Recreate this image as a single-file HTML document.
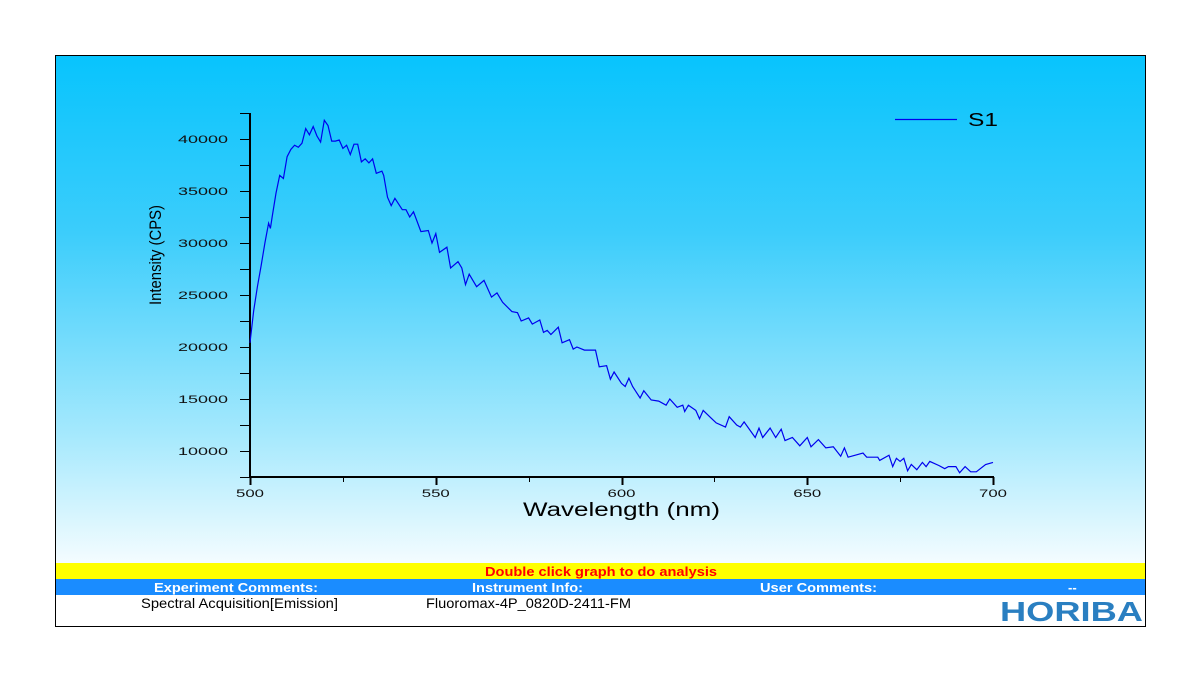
<!DOCTYPE html>
<html><head><meta charset="utf-8">
<style>
html,body{margin:0;padding:0;background:#fff;width:1200px;height:681px;overflow:hidden;font-family:"Liberation Sans",sans-serif;}
#frame{position:absolute;left:55px;top:55px;width:1089px;height:570px;border:1px solid #000;background:#fff;overflow:hidden;}
#grad{position:absolute;left:0;top:0;width:1089px;height:507px;background:linear-gradient(#08c4fd 0%,#3ccdfb 35%,#a6e9fd 75%,#f4fcff 100%);}
#ybar{position:absolute;left:0;top:507px;width:1089px;height:16px;background:#ffff00;}
#bbar{position:absolute;left:0;top:523px;width:1089px;height:16px;background:#1a8cff;}
#over{position:absolute;left:0;top:0;}
</style></head><body>
<div id="frame">
<div id="grad"></div>
<div id="ybar"></div>
<div id="bbar"></div>
</div>
<svg id="over" width="1200" height="681" font-family="Liberation Sans, sans-serif">
<text x="485" y="576" font-size="13" font-weight="bold" fill="#ff0000" textLength="232" lengthAdjust="spacingAndGlyphs">Double click graph to do analysis</text>
<text x="154" y="592" font-size="13" font-weight="bold" fill="#fff" textLength="164" lengthAdjust="spacingAndGlyphs">Experiment Comments:</text>
<text x="472" y="592" font-size="13" font-weight="bold" fill="#fff" textLength="111" lengthAdjust="spacingAndGlyphs">Instrument Info:</text>
<text x="760" y="592" font-size="13" font-weight="bold" fill="#fff" textLength="117" lengthAdjust="spacingAndGlyphs">User Comments:</text>
<text x="1068" y="592" font-size="13" font-weight="bold" fill="#fff">--</text>
<text x="141" y="608" font-size="14" fill="#000" textLength="197" lengthAdjust="spacingAndGlyphs">Spectral Acquisition[Emission]</text>
<text x="426" y="608" font-size="14" fill="#000" textLength="205" lengthAdjust="spacingAndGlyphs">Fluoromax-4P_0820D-2411-FM</text>
<text x="1000" y="621" font-size="28" font-weight="bold" fill="#2a7fc1" textLength="143" lengthAdjust="spacingAndGlyphs">HORIBA</text>
</svg>
<svg id="chart" width="1200" height="681" style="position:absolute;left:0;top:0"></svg>
<script>
const wavelengths=[500,501,502,503,504,505,505.5,506,507,508,509,510,511,512,513,514,515,516,517,518,519,520,521,522,523,524,525,526,527,528,529,530,531,532,533,534,535.5,536,537,538,539,541,542,543,544,546,548,549,550,551,553,554,556,557,558,559,561,563,565,566.5,568,570.5,572,573,575,576,578,579,580,581,583,584,586,587,588,590,593,594,596,597,598,600,601,602,603,605,606,608,610,612,613,615,616.5,617,618,620,621,622,624,625.5,628,629,631,632,633,636,637,638,640,641.5,643,644,646,648,650,651,653,655,657,659,660,661,665,666,669,669.5,672,673,674,675,676,677,678,679.5,681,682,683,685.5,687,688,690,691,692.5,694,695.5,698,700];
const intensities=[20400,23500,25800,27800,30000,31900,31400,32600,34800,36500,36200,38300,39000,39400,39200,39600,41000,40400,41200,40300,39700,41800,41300,39800,39800,39900,39100,39400,38500,39500,39500,37800,38100,37700,38100,36700,36900,36500,34400,33600,34300,33200,33200,32500,33000,31100,31200,30000,30900,29100,29600,27600,28200,27600,26000,27000,25800,26400,24800,25200,24300,23400,23300,22500,22800,22200,22600,21400,21600,21200,21900,20400,20700,19800,20000,19700,19700,18100,18200,16900,17600,16500,16200,17000,16200,15100,15800,14900,14800,14400,15000,14200,14400,13800,14400,13900,13100,13900,13200,12700,12300,13300,12500,12300,12800,11300,12200,11300,12200,11300,12100,11000,11300,10500,11300,10400,11100,10300,10400,9500,10300,9400,9800,9400,9400,9100,9600,8500,9300,9000,9300,8100,8700,8200,8900,8500,9000,8600,8300,8500,8500,7900,8500,8000,8000,8700,8900];
const xTicks=[500,550,600,650,700];
const yTicks=[10000,15000,20000,25000,30000,35000,40000];
const seriesName="S1";
const NS="http://www.w3.org/2000/svg";
const svg=document.getElementById('chart');
const X0=250,X1=993,Y0=477,Y1=113;
const xMin=500,xMax=700,yMin=7500,yMax=42500;
function sx(v){return X0+(v-xMin)/(xMax-xMin)*(X1-X0);}
function sy(v){return Y0-(v-yMin)/(yMax-yMin)*(Y0-Y1);}
function mk(tag,attrs){const e=document.createElementNS(NS,tag);for(const k in attrs)e.setAttribute(k,attrs[k]);svg.appendChild(e);return e;}
let ya=mk('line',{x1:X0,y1:Y1,x2:X0,y2:Y0,stroke:'#000','stroke-width':2});


let xa=mk('line',{x1:X0-1,y1:Y0,x2:X1+1,y2:Y0,stroke:'#000','stroke-width':2});


for(let v=yMin;v<=yMax;v+=2500){const y=Math.round(sy(v))+0.5;mk('line',{x1:X0-10,y1:y,x2:X0,y2:y,stroke:'#000','stroke-width':1});}
yTicks.forEach(v=>{const t=mk('text',{x:178,y:sy(v)+4,'font-size':11,'fill':'#111','font-family':'Liberation Sans, sans-serif',textLength:50,lengthAdjust:'spacingAndGlyphs'});t.textContent=v;

});
for(let v=xMin;v<=xMax;v+=25){const x=Math.round(sx(v))+0.5;const major=xTicks.includes(v);mk('line',{x1:x,y1:Y0,x2:x,y2:Y0+(major?8:5),stroke:'#000','stroke-width':major?2:1});}
xTicks.forEach(v=>{const t=mk('text',{x:sx(v)-14,y:497,'font-size':11,'fill':'#111','font-family':'Liberation Sans, sans-serif',textLength:28,lengthAdjust:'spacingAndGlyphs'});t.textContent=v;

});
let xt=mk('text',{x:523,y:516,'font-size':19,'fill':'#000','font-family':'Liberation Sans, sans-serif',textLength:197,lengthAdjust:'spacingAndGlyphs'});xt.textContent='Wavelength (nm)';


let yt=mk('text',{x:-50,y:0,'font-size':17,'fill':'#000','font-family':'Liberation Sans, sans-serif',transform:'translate(161,255) rotate(-90)',textLength:100,lengthAdjust:'spacingAndGlyphs'});yt.textContent='Intensity (CPS)';


let d=wavelengths.map((w,i)=>(i?'L':'M')+sx(w).toFixed(1)+','+sy(intensities[i]).toFixed(1)).join(' ');
let p=mk('path',{d:d,fill:'none',stroke:'#0000ee','stroke-width':1.2});


let ll=mk('line',{x1:895,y1:119.5,x2:957,y2:119.5,stroke:'#0000ee','stroke-width':1.2});


let lt=mk('text',{x:968,y:126,'font-size':18,'fill':'#000','font-family':'Liberation Sans, sans-serif',textLength:30,lengthAdjust:'spacingAndGlyphs'});lt.textContent=seriesName;


</script>
</body></html>
